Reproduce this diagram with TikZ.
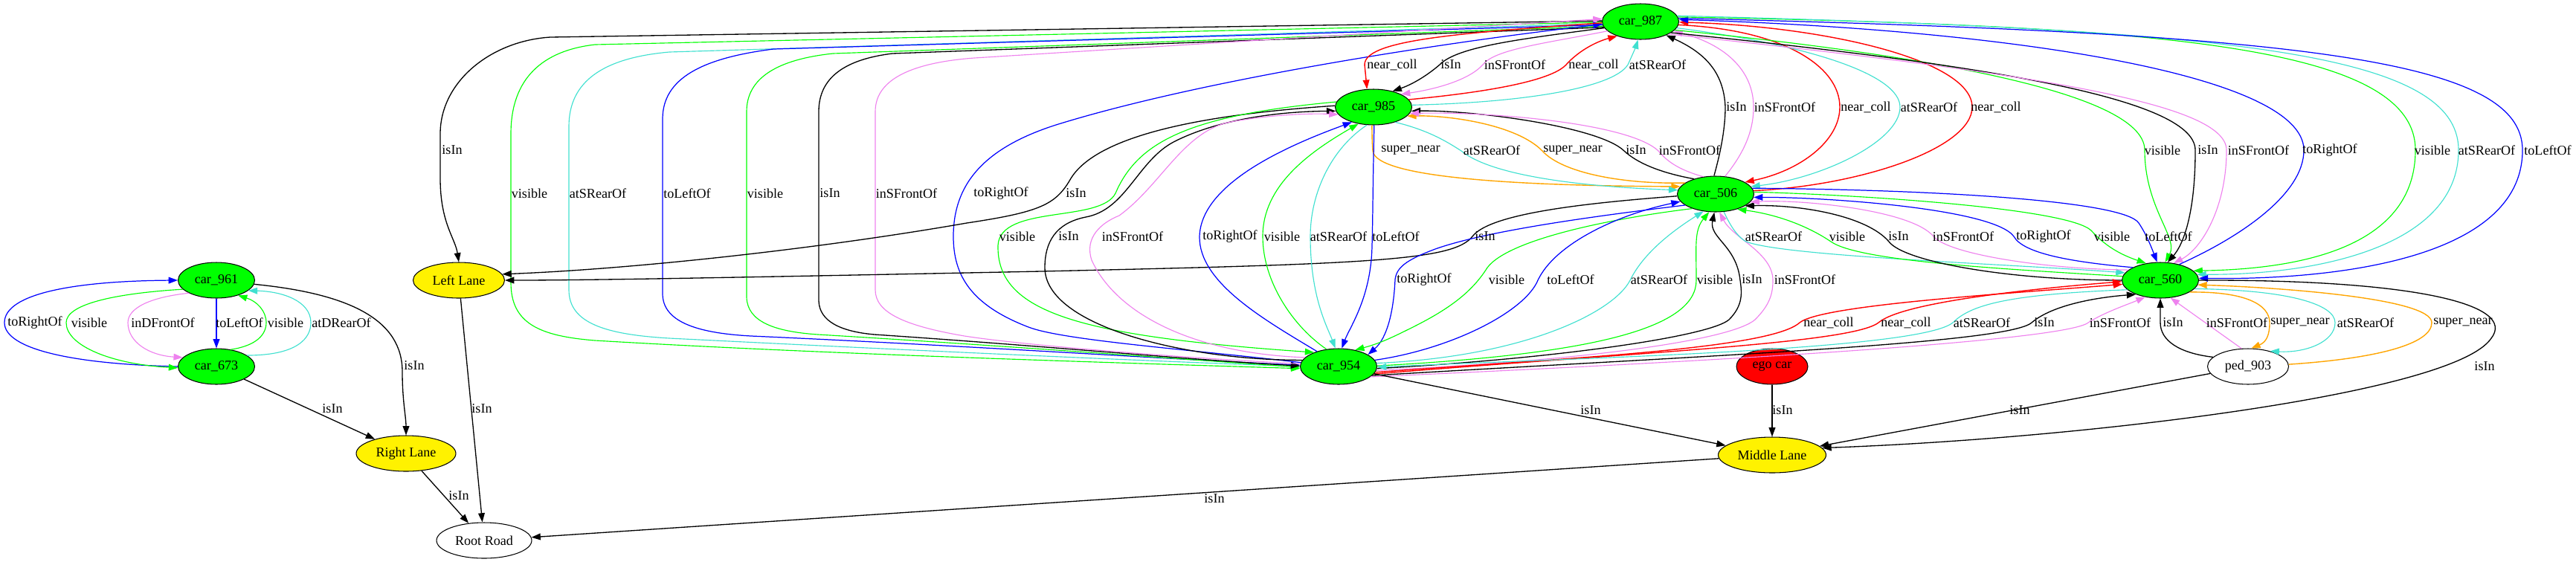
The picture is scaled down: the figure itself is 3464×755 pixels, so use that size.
\documentclass[tikz,border=0pt]{standalone}
\usepackage{fontspec}
\setmainfont{Liberation Serif}
\usepackage{tikz}
\usetikzlibrary{shapes,arrows.meta}
\usepackage{xcolor}
\definecolor{gvgreen}{HTML}{00FF00}
\definecolor{gvturq}{HTML}{40E0D0}
\definecolor{gvviolet}{HTML}{EE82EE}
\definecolor{gvorange}{HTML}{FFA500}

\begin{document}
\begin{tikzpicture}[x=0.02cm, y=-0.02cm, font=\fontsize{10.3}{12}\selectfont,
    >={Triangle[length=7pt,width=5pt]},
    car/.style={ellipse, draw, line width=0.6pt, fill=gvgreen, minimum width=2.06cm, minimum height=0.96cm, inner sep=0pt},
    lane/.style={ellipse, draw, line width=0.6pt, fill=yellow, minimum height=0.96cm, inner sep=0pt},
    plain/.style={ellipse, draw, line width=0.6pt, fill=white, minimum height=0.96cm, inner sep=0pt},
    lbl/.style={inner sep=0pt},
    isin/.style={black, line width=0.75pt},
    vis/.style={gvgreen, line width=0.65pt},
    rear/.style={gvturq, line width=0.65pt},
    front/.style={gvviolet, line width=0.65pt},
    lft/.style={blue, line width=0.7pt},
    rgt/.style={blue, line width=0.7pt},
    ncoll/.style={red, line width=0.8pt},
    supn/.style={gvorange, line width=0.8pt}]
     \useasboundingbox (0,0) rectangle (3464,755);

     % nodes
     \node [car] (c987) at (2206,29) {car\_987};
     \node [car] (c985) at (1847,144) {car\_985};
     \node [car] (c506) at (2307,261) {car\_506};
     \node [car] (c560) at (2905,377) {car\_560};
     \node [car] (c954) at (1800,493) {car\_954};
     \node [car] (c961) at (291,377) {car\_961};
     \node [car] (c673) at (291,493) {car\_673};
     \node [ellipse, draw, line width=0.6pt, fill=red, minimum width=1.92cm, minimum height=0.96cm, inner sep=0pt] (ego) at (2383,493) {ego car};
     \node [plain, minimum width=2.18cm] (ped) at (3023,493) {ped\_903};
     \node [lane, minimum width=2.46cm] (left) at (617,377) {Left Lane};
     \node [lane, minimum width=2.68cm] (right) at (546,610) {Right Lane};
     \node [lane, minimum width=2.9cm] (mid) at (2383,612) {Middle Lane};
     \node [plain, minimum width=2.56cm] (root) at (651,727) {Root Road};

     % car_961 and car_673
     \draw [lft,->] (c961) -- (c673);
     \draw [rgt,->] (c673.west) .. controls (100,490) and (6,470) .. (6,434) .. controls (6,395) and (100,378) .. (c961.west);
     \draw [vis,->] (c961.195) .. controls (150,395) and (89,410) .. (89,434) .. controls (89,465) and (150,490) .. (c673.182);
     \draw [front,->] (c961.205) .. controls (200,400) and (172,415) .. (172,434) .. controls (172,460) and (200,478) .. (c673.165);
     \draw [vis,->] (c673.50) .. controls (345,465) and (358,450) .. (358,434) .. controls (358,418) and (345,405) .. (c961.-35);
     \draw [rear,->] (c673.20) .. controls (400,478) and (418,455) .. (418,434) .. controls (418,405) and (380,392) .. (c961.-18);
     \draw [isin,->] (c961.-6) .. controls (470,395) and (541,430) .. (541,500) .. controls (541,540) and (546,560) .. (right.north);
     \draw [isin,->] (c673) -- (right);
     \draw [isin,->] (right) -- (root);
     \draw [isin,->] (left) -- (root);

     % car_987 to Left Lane and the long loops
     \draw [isin,->] (c987.179) -- (740,50) .. controls (660,55) and (592,110) .. (592,180) -- (592,240) .. controls (592,300) and (612,320) .. (left.north);
     \draw [vis,->] (c987.181) -- (800,60) .. controls (730,68) and (687,105) .. (687,180) -- (687,380) .. controls (687,435) and (725,452) .. (800,458) .. controls (1100,476) and (1500,488) .. (c954.183);
     \draw [rear,->] (c987.183) -- (900,70) .. controls (810,78) and (765,110) .. (765,170) -- (765,390) .. controls (765,435) and (815,450) .. (900,455) .. controls (1200,470) and (1500,484) .. (c954.180);
     \draw [lft,->] (c987.185) -- (1040,66) .. controls (945,78) and (891,105) .. (891,160) -- (891,395) .. controls (891,432) and (935,448) .. (1010,452) .. controls (1300,465) and (1550,482) .. (c954.178);
     \draw [vis,->] (c987.187) -- (1120,72) .. controls (1045,80) and (1004,105) .. (1004,150) -- (1004,400) .. controls (1005,432) and (1040,446) .. (1100,450) .. controls (1350,465) and (1600,484) .. (c954.181);
     \draw [isin,->] (c987.189) -- (1200,72) .. controls (1135,80) and (1101,105) .. (1101,150) -- (1101,405) .. controls (1102,432) and (1130,446) .. (1176,450) .. controls (1400,465) and (1600,484) .. (c954.179);
     \draw [front,->] (c954.176) .. controls (1600,482) and (1380,465) .. (1297,452) .. controls (1215,438) and (1177,420) .. (1177,390) -- (1177,150) .. controls (1177,105) and (1230,84) .. (1310,78) -- (c987.176);
     \draw [rgt,->] (c954.174) .. controls (1600,470) and (1430,458) .. (1383,440) .. controls (1305,410) and (1282,370) .. (1282,318) .. controls (1282,250) and (1320,200) .. (1420,168) .. controls (1600,112) and (1900,62) .. (c987.184);

     % car_987 and car_985
     \draw [ncoll,->] (c987.182) .. controls (1950,45) and (1835,55) .. (1835,87) -- (c985.110);
     \draw [isin,->] (c987.190) .. controls (2050,52) and (1960,62) .. (1936,87) .. controls (1915,105) and (1895,115) .. (c985.40);
     \draw [front,->] (c987.196) .. controls (2080,58) and (2010,66) .. (1994,87) .. controls (1975,108) and (1930,120) .. (c985.25);
     \draw [ncoll,->] (c985.12) .. controls (1990,125) and (2085,110) .. (2106,87) .. controls (2125,66) and (2150,55) .. (c987.212);
     \draw [rear,->] (c985.3) .. controls (2050,138) and (2170,118) .. (2189,87) .. controls (2196,72) and (2200,62) .. (c987.262);

     % car_987 and car_506
     \draw [isin,->] (c506.95) .. controls (2315,200) and (2320,170) .. (2320,144) .. controls (2318,95) and (2290,70) .. (c987.-28);
     \draw [front,->] (c506.62) .. controls (2350,200) and (2358,170) .. (2358,144) .. controls (2358,95) and (2320,60) .. (c987.-16);
     \draw [ncoll,->] (c987.-5) .. controls (2400,40) and (2474,90) .. (2474,144) .. controls (2474,190) and (2420,230) .. (c506.22);
     \draw [rear,->] (c987.-10) .. controls (2430,60) and (2555,100) .. (2555,144) .. controls (2555,190) and (2450,240) .. (c506.12);
     \draw [ncoll,->] (c506.5) .. controls (2500,250) and (2652,200) .. (2652,144) .. controls (2652,80) and (2450,35) .. (c987.-1);

     % car_987 and car_560
     \draw [vis,->] (c987.-14) .. controls (2550,70) and (2884,120) .. (2884,202) .. controls (2884,280) and (2930,320) .. (c560.75);
     \draw [isin,->] (c987.-20) .. controls (2650,85) and (2952,130) .. (2952,202) .. controls (2952,290) and (2935,330) .. (c560.68);
     \draw [front,->] (c987.-24) .. controls (2750,100) and (2994,140) .. (2994,202) .. controls (2994,280) and (2960,335) .. (c560.52);
     \draw [rgt,->] (c560.40) .. controls (3010,320) and (3098,262) .. (3098,202) .. controls (3098,100) and (2700,40) .. (c987.3);
     \draw [vis,->] (c987.7) .. controls (2900,35) and (3248,60) .. (3248,202) .. controls (3248,330) and (3100,362) .. (c560.16);
     \draw [rear,->] (c987.9) .. controls (3000,40) and (3306,70) .. (3306,202) .. controls (3306,330) and (3120,370) .. (c560.9);
     \draw [lft,->] (c987.5) .. controls (3100,45) and (3392,80) .. (3392,202) .. controls (3392,345) and (3150,377) .. (c560.3);

     % car_985 and car_506
     \draw [supn,->] (c985.265) .. controls (1845,180) and (1845,190) .. (1846,203) .. controls (1850,240) and (2050,250) .. (c506.168);
     \draw [rear,->] (c985.-35) .. controls (1920,175) and (1945,190) .. (1965,203) .. controls (2010,240) and (2150,252) .. (c506.174);
     \draw [supn,->] (c506.160) .. controls (2180,248) and (2100,232) .. (2074,203) .. controls (2040,168) and (1950,155) .. (c985.-15);
     \draw [isin,->] (c506.145) .. controls (2230,232) and (2200,218) .. (2184,203) .. controls (2150,170) and (1980,148) .. (c985.-6);
     \draw [front,->] (c506.125) .. controls (2255,228) and (2240,215) .. (2230,203) .. controls (2190,165) and (2000,150) .. (c985.-10);

     % into Left Lane
     \draw [isin,->] (c985.178) .. controls (1650,152) and (1480,175) .. (1440,240) .. controls (1420,275) and (1400,285) .. (1300,300) .. controls (1100,335) and (850,362) .. (left.8);
     \draw [isin,->] (c506.183) .. controls (2150,272) and (2005,285) .. (1980,318) .. controls (1955,350) and (1850,355) .. (1400,365) .. controls (1000,373) and (800,377) .. (left.east);

     % car_985 and car_954
     \draw [vis,->] (c985.172) .. controls (1600,155) and (1530,190) .. (1500,260) .. controls (1480,300) and (1345,275) .. (1342,330) .. controls (1340,420) and (1450,452) .. (c954.150);
     \draw [isin,->] (c954.170) .. controls (1600,485) and (1405,440) .. (1405,360) .. controls (1405,325) and (1420,300) .. (1460,292) .. controls (1515,282) and (1530,215) .. (1580,190) .. controls (1640,160) and (1720,150) .. (c985.186);
     \draw [front,->] (c954.165) .. controls (1600,475) and (1500,420) .. (1468,350) .. controls (1458,320) and (1480,300) .. (1505,290) .. controls (1560,250) and (1590,180) .. (1650,165) .. controls (1700,155) and (1760,152) .. (c985.192);
     \draw [rgt,->] (c954.145) .. controls (1700,430) and (1612,380) .. (1613,318) .. controls (1615,250) and (1720,200) .. (c985.215);
     \draw [vis,->] (c954.125) .. controls (1740,440) and (1698,380) .. (1698,318) .. controls (1698,250) and (1760,205) .. (c985.228);
     \draw [rear,->] (c985.250) .. controls (1790,200) and (1762,260) .. (1762,318) .. controls (1762,400) and (1785,440) .. (c954.100);
     \draw [lft,->] (c985.272) .. controls (1846,250) and (1846,300) .. (1845,330) .. controls (1844,400) and (1815,440) .. (c954.80);

     % car_506 and car_954
     \draw [rgt,->] (c506.200) .. controls (2150,290) and (2000,310) .. (1930,335) .. controls (1890,350) and (1878,360) .. (1876,376) .. controls (1874,420) and (1865,455) .. (c954.22);
     \draw [vis,->] (c506.212) .. controls (2180,292) and (2030,320) .. (2000,360) .. controls (1980,392) and (1950,415) .. (1900,440) .. controls (1870,455) and (1855,462) .. (c954.45);
     \draw [lft,->] (c954.10) .. controls (1950,470) and (2050,420) .. (2068,377) .. controls (2090,330) and (2170,290) .. (c506.192);
     \draw [rear,->] (c954.5) .. controls (2050,480) and (2170,420) .. (2192,377) .. controls (2210,340) and (2250,310) .. (c506.235);
     \draw [vis,->] (c954.1) .. controls (2150,476) and (2281,440) .. (2281,377) .. controls (2281,330) and (2278,310) .. (c506.250);
     \draw [isin,->] (c954.-3) .. controls (2100,482) and (2300,452) .. (2325,430) .. controls (2345,410) and (2342,392) .. (2340,377) .. controls (2335,330) and (2298,320) .. (c506.266);
     \draw [front,->] (c954.-6) .. controls (2150,484) and (2330,456) .. (2360,430) .. controls (2380,410) and (2384,395) .. (2384,377) .. controls (2384,340) and (2330,320) .. (c506.282);

     % car_506 and car_560
     \draw [rear,->] (c506.295) .. controls (2325,300) and (2335,318) .. (2348,325) .. controls (2400,345) and (2700,355) .. (c560.168);
     \draw [vis,->] (c560.174) .. controls (2700,362) and (2500,352) .. (2462,325) .. controls (2440,310) and (2400,290) .. (c506.-35);
     \draw [isin,->] (c560.180) .. controls (2700,377) and (2560,352) .. (2540,325) .. controls (2510,290) and (2420,275) .. (c506.-22);
     \draw [front,->] (c560.162) .. controls (2750,362) and (2620,342) .. (2600,318) .. controls (2570,282) and (2420,268) .. (c506.-13);
     \draw [rgt,->] (c560.155) .. controls (2780,352) and (2720,340) .. (2708,318) .. controls (2680,280) and (2450,265) .. (c506.-5);
     \draw [vis,->] (c506.3) .. controls (2500,262) and (2780,280) .. (2812,310) .. controls (2830,330) and (2850,342) .. (c560.130);
     \draw [lft,->] (c506.9) .. controls (2600,255) and (2856,270) .. (2876,300) .. controls (2886,315) and (2892,330) .. (c560.100);

     % car_954 and car_560
     \draw [ncoll,->] (c954.-9) .. controls (2100,482) and (2380,470) .. (2420,434) .. controls (2450,410) and (2700,395) .. (c560.186);
     \draw [ncoll,->] (c954.-12) .. controls (2200,474) and (2490,462) .. (2526,434) .. controls (2560,405) and (2750,387) .. (c560.182);
     \draw [rear,->] (c560.196) .. controls (2700,396) and (2650,410) .. (2626,434) .. controls (2580,472) and (2100,482) .. (c954.-1);
     \draw [isin,->] (c954.-15) .. controls (2300,478) and (2700,462) .. (2732,434) .. controls (2760,410) and (2820,400) .. (c560.210);
     \draw [front,->] (c954.-18) .. controls (2400,482) and (2780,456) .. (2808,434) .. controls (2830,420) and (2860,410) .. (c560.228);

     % ped_903 and car_560
     \draw [isin,->] (ped.165) .. controls (2930,475) and (2905,458) .. (2905,434) -- (c560.south);
     \draw [front,->] (ped.110) -- (c560.-60);
     \draw [supn,->] (c560.-22) .. controls (3020,392) and (3052,410) .. (3052,434) .. controls (3052,450) and (3048,460) .. (ped.80);
     \draw [rear,->] (c560.-14) .. controls (3080,390) and (3140,410) .. (3140,434) .. controls (3140,460) and (3100,475) .. (ped.35);
     \draw [supn,->] (ped.3) .. controls (3200,482) and (3270,462) .. (3270,434) .. controls (3270,400) and (3050,386) .. (c560.-7);

     % lanes and road
     \draw [isin,->] (c560.0) .. controls (3250,376) and (3385,410) .. (3350,455) .. controls (3300,530) and (2800,590) .. (mid.8);
     \draw [isin,->] (c954) -- (mid);
     \draw [isin,->] (ego) -- (mid);
     \draw [isin,->] (ped) -- (mid);
     \draw [isin,->] (mid) -- (root);

     % labels
     \node [lbl] (a1) at (1872,87) {near\_coll};
     \node [lbl] (a2) at (1951,87) {isIn};
     \node [lbl] (a3) at (2037,87) {inSFrontOf};
     \node [lbl] (a4) at (2143,87) {near\_coll};
     \node [lbl] (a5) at (2229,87) {atSRearOf};
     \node [lbl] (b1) at (2335,144) {isIn};
     \node [lbl] (b2) at (2400,144) {inSFrontOf};
     \node [lbl] (b3) at (2509,144) {near\_coll};
     \node [lbl] (b4) at (2594,144) {atSRearOf};
     \node [lbl] (b5) at (2684,144) {near\_coll};
     \node [lbl] (d1) at (608,202) {isIn};
     \node [lbl] (d2) at (1897,202) {super\_near};
     \node [lbl] (d3) at (2006,202) {atSRearOf};
     \node [lbl] (d4) at (2115,202) {super\_near};
     \node [lbl] (d5) at (2200,202) {isIn};
     \node [lbl] (d6) at (2272,202) {inSFrontOf};
     \node [lbl] (d7) at (2908,202) {visible};
     \node [lbl] (d8) at (2969,202) {isIn};
     \node [lbl] (d9) at (3037,202) {inSFrontOf};
     \node [lbl] (d10) at (3133,202) {toRightOf};
     \node [lbl] (d11) at (3271,202) {visible};
     \node [lbl] (d12) at (3344,202) {atSRearOf};
     \node [lbl] (d13) at (3426,202) {toLeftOf};
     \node [lbl] (e1) at (712,260) {visible};
     \node [lbl] (e2) at (804,260) {atSRearOf};
     \node [lbl] (e3) at (924,260) {toLeftOf};
     \node [lbl] (e4) at (1029,260) {visible};
     \node [lbl] (e5) at (1116,260) {isIn};
     \node [lbl] (e6) at (1219,260) {inSFrontOf};
     \node [lbl] (e7) at (1346,260) {toRightOf};
     \node [lbl] (e8) at (1447,260) {isIn};
     \node [lbl] (f1) at (1368,318) {visible};
     \node [lbl] (f2) at (1437,318) {isIn};
     \node [lbl] (f3) at (1523,318) {inSFrontOf};
     \node [lbl] (f4) at (1654,318) {toRightOf};
     \node [lbl] (f5) at (1724,318) {visible};
     \node [lbl] (f6) at (1800,318) {atSRearOf};
     \node [lbl] (f7) at (1877,318) {toLeftOf};
     \node [lbl] (f8) at (1997,318) {isIn};
     \node [lbl] (f9) at (2385,318) {atSRearOf};
     \node [lbl] (f10) at (2484,318) {visible};
     \node [lbl] (f11) at (2553,318) {isIn};
     \node [lbl] (f12) at (2640,318) {inSFrontOf};
     \node [lbl] (f13) at (2748,318) {toRightOf};
     \node [lbl] (f14) at (2840,318) {visible};
     \node [lbl] (f15) at (2916,318) {toLeftOf};
     \node [lbl] (g1) at (1915,376) {toRightOf};
     \node [lbl] (g2) at (2026,376) {visible};
     \node [lbl] (g3) at (2112,376) {toLeftOf};
     \node [lbl] (g4) at (2231,376) {atSRearOf};
     \node [lbl] (g5) at (2306,376) {visible};
     \node [lbl] (g6) at (2356,376) {isIn};
     \node [lbl] (g7) at (2427,376) {inSFrontOf};
     \node [lbl] (h1) at (47,434) {toRightOf};
     \node [lbl] (h2) at (120,434) {visible};
     \node [lbl] (h3) at (219,434) {inDFrontOf};
     \node [lbl] (h4) at (322,434) {toLeftOf};
     \node [lbl] (h5) at (384,434) {visible};
     \node [lbl] (h6) at (459,434) {atDRearOf};
     \node [lbl] (h7) at (2459,434) {near\_coll};
     \node [lbl] (h8) at (2563,434) {near\_coll};
     \node [lbl] (h9) at (2665,434) {atSRearOf};
     \node [lbl] (h10) at (2749,434) {isIn};
     \node [lbl] (h11) at (2851,434) {inSFrontOf};
     \node [lbl] (h12) at (2922,434) {isIn};
     \node [lbl] (h13) at (3008,434) {inSFrontOf};
     \node [lbl] (h14) at (3093,434) {super\_near};
     \node [lbl] (h15) at (3181,434) {atSRearOf};
     \node [lbl] (h16) at (3312,434) {super\_near};
     \node [lbl] (k1) at (557,492) {isIn};
     \node [lbl] (k2) at (3341,493) {isIn};
     \node [lbl] (m1) at (447,550) {isIn};
     \node [lbl] (m2) at (648,550) {isIn};
     \node [lbl] (m3) at (2139,552) {isIn};
     \node [lbl] (m4) at (2397,552) {isIn};
     \node [lbl] (m5) at (2716,552) {isIn};
     \node [lbl] (p1) at (617,667) {isIn};
     \node [lbl] (p2) at (1633,671) {isIn};
\end{tikzpicture}
\end{document}
